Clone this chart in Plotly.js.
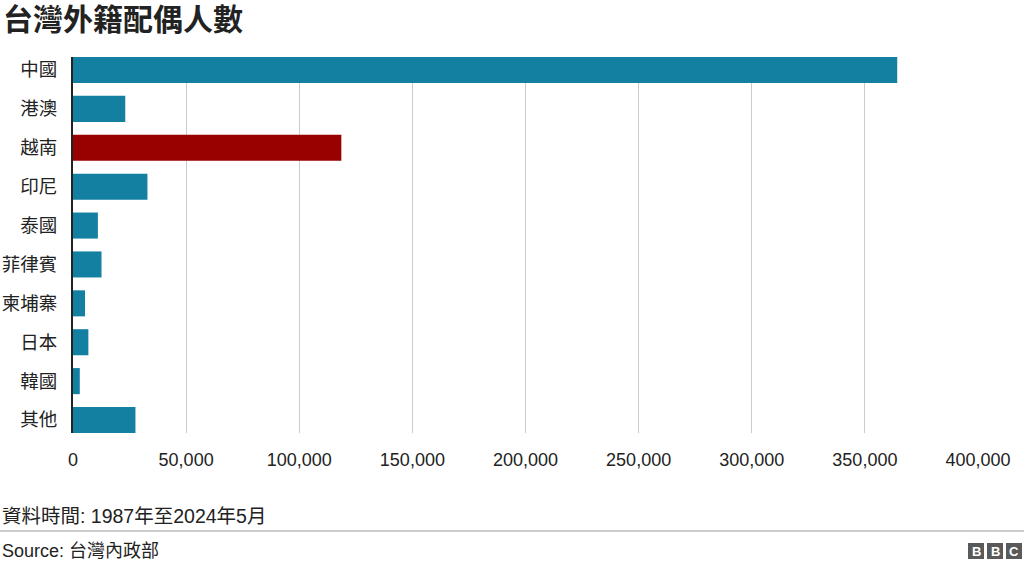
<!DOCTYPE html>
<html>
<head>
<meta charset="utf-8">
<script src="https://cdn.plot.ly/plotly-3.0.1.min.js"></script>
<style>
  html, body { margin: 0; padding: 0; background: #fff; }
  #chart { width: 1024px; height: 567px; }
</style>
</head>
<body>
<div id="chart"></div>
<script>
// ---- Data ----
const categories = ['中國', '港澳', '越南', '印尼', '泰國', '菲律賓', '柬埔寨', '日本', '韓國', '其他'];
const spouses = [364300, 23100, 118600, 32900, 11000, 12600, 5300, 6800, 3000, 27600];
const highlightCategory = '越南';
const xTickValues = [0, 50000, 100000, 150000, 200000, 250000, 300000, 350000, 400000];
const titleText = '台灣外籍配偶人數';
const noteText = '資料時間: 1987年至2024年5月';
const sourceText = 'Source: 台灣內政部';

// ---- Styling ----
const W = 1024, H = 567;
const M = { l: 73, r: 46, t: 57, b: 134 };
const plotW = W - M.l - M.r, plotH = H - M.t - M.b;
const px = x => (x - M.l) / plotW;
const py = y => (H - M.b - y) / plotH;
const FONT = 'Liberation Sans, Arial, Noto Sans CJK TC, sans-serif';
const TEXT = '#222222';

const barColors = categories.map(c => c === highlightCategory ? '#990000' : '#1380A1');

const trace = {
  type: 'bar',
  orientation: 'h',
  y: categories,
  x: spouses,
  marker: { color: barColors, line: { width: 0 } },
  width: 0.67,
  hoverinfo: 'skip'
};

// BBC logo shapes and letters
const logoBoxes = [[968, 984], [987, 1003], [1006, 1022]];
const shapes = [
  { type: 'line', xref: 'paper', yref: 'paper', x0: px(0), x1: px(1024), y0: py(531), y1: py(531),
    line: { color: '#999999', width: 1 } }
];
const annotations = [
  { text: noteText, xref: 'paper', yref: 'paper', x: px(0), y: py(516), xanchor: 'left', yanchor: 'middle',
    showarrow: false, font: { family: FONT, size: 19.5, color: TEXT } },
  { text: sourceText, xref: 'paper', yref: 'paper', x: px(0), y: py(551), xanchor: 'left', yanchor: 'middle',
    showarrow: false, font: { family: FONT, size: 18, color: TEXT } }
];
['B', 'B', 'C'].forEach((ch, i) => {
  const [a, b] = logoBoxes[i];
  shapes.push({ type: 'rect', xref: 'paper', yref: 'paper', x0: px(a), x1: px(b), y0: py(559), y1: py(543),
    fillcolor: '#5a5a5a', line: { width: 0 } });
  annotations.push({ text: '<b>' + ch + '</b>', xref: 'paper', yref: 'paper', x: px((a + b) / 2), y: py(551.5),
    xanchor: 'center', yanchor: 'middle', showarrow: false, font: { family: FONT, size: 13, color: '#ffffff' } });
});

const layout = {
  width: W, height: H,
  margin: M,
  paper_bgcolor: '#ffffff',
  plot_bgcolor: '#ffffff',
  showlegend: false,
  font: { family: FONT, size: 18, color: TEXT },
  title: {
    text: '<b>' + titleText + '</b>',
    xref: 'container', yref: 'container',
    x: 3 / W, xanchor: 'left',
    y: 1 - 19 / H, yanchor: 'middle',
    font: { family: 'Liberation Sans, Noto Sans CJK TC, sans-serif', size: 30, color: TEXT }
  },
  xaxis: {
    range: [0, 400000],
    tickvals: xTickValues,
    tickformat: ',d',
    showgrid: true,
    gridcolor: '#cbcbcb',
    gridwidth: 1,
    zeroline: false,
    showline: false,
    ticks: '',
    ticklabelstandoff: 14,
    tickfont: { family: FONT, size: 18, color: TEXT },
    fixedrange: true
  },
  yaxis: {
    type: 'category',
    categoryorder: 'array',
    categoryarray: categories,
    range: [9.334, -0.334],
    showgrid: false,
    zeroline: false,
    showline: true,
    linecolor: '#222222',
    linewidth: 2,
    ticks: '',
    ticklabelstandoff: 10,
    tickfont: { family: FONT, size: 18.5, color: TEXT },
    fixedrange: true
  },
  shapes: shapes,
  annotations: annotations
};

Plotly.newPlot('chart', [trace], layout, { staticPlot: true, displayModeBar: false });
</script>
</body>
</html>
